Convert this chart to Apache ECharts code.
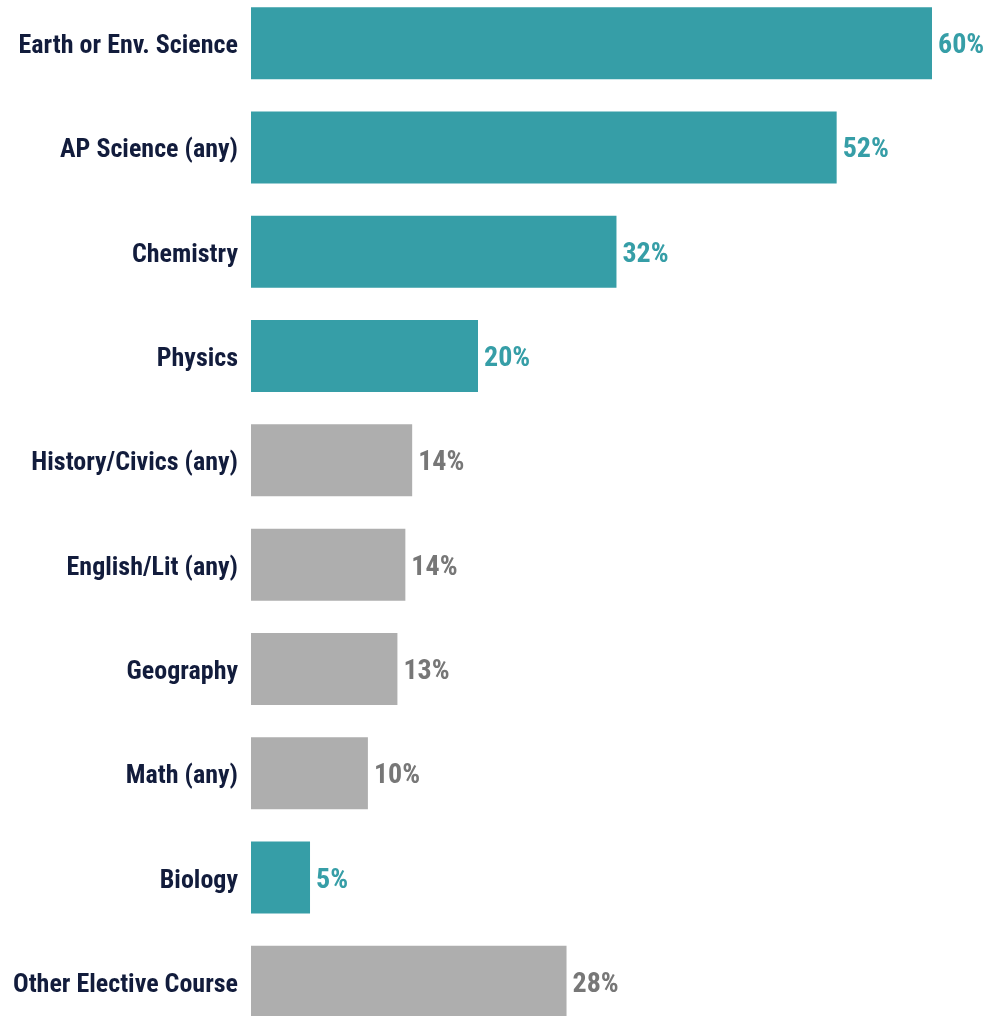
<!DOCTYPE html>
<html>
<head>
<meta charset="utf-8">
<script src="https://cdn.jsdelivr.net/npm/echarts@6/dist/echarts.min.js"></script>
<style>
  html, body { margin: 0; padding: 0; background: #ffffff; }
  #chart { width: 993px; height: 1016px; }
</style>
</head>
<body>
<div id="chart"></div>
<script>
// Course categories, top to bottom
const categories = [
  'Earth or Env. Science',
  'AP Science (any)',
  'Chemistry',
  'Physics',
  'History/Civics (any)',
  'English/Lit (any)',
  'Geography',
  'Math (any)',
  'Biology',
  'Other Elective Course'
];
// Share of respondents (%)
const values = [60.0, 51.6, 32.2, 20.0, 14.2, 13.6, 12.9, 10.3, 5.2, 27.8];
// Science courses are highlighted
const isScience = [true, true, true, true, false, false, false, false, true, false];

const TEAL = '#369EA7';
const GRAY = '#AEAEAE';
const FONT = '"Roboto Condensed", "Liberation Sans", sans-serif';

const chart = echarts.init(document.getElementById('chart'), null, { renderer: 'canvas' });

const data = values.map((v, i) => ({
  value: v,
  itemStyle: { color: isScience[i] ? TEAL : GRAY },
  label: { color: isScience[i] ? TEAL : '#777777' }
}));

chart.setOption({
  animation: false,
  backgroundColor: '#ffffff',
  grid: {
    left: 251, right: 61, top: -9, bottom: -18,
    containLabel: false,
    outerBoundsMode: 'none'
  },
  xAxis: {
    type: 'value',
    min: 0,
    max: 60,
    show: false
  },
  yAxis: {
    type: 'category',
    data: categories,
    inverse: true,
    axisLine: { show: false },
    axisTick: { show: false },
    splitLine: { show: false },
    axisLabel: {
      margin: 13,
      formatter: v => '{c|' + v + '}',
      rich: {
        c: {
          padding: [7, 0, 0, 0],
          color: '#121C3C',
          fontFamily: FONT,
          fontWeight: 'bold',
          fontSize: 26
        }
      }
    }
  },
  series: [{
    type: 'bar',
    data: data,
    barWidth: 72,
    label: {
      show: true,
      position: 'right',
      distance: 6,
      offset: [0, 3],
      fontFamily: FONT,
      fontWeight: 'bold',
      fontSize: 28,
      formatter: p => Math.round(p.value) + '%'
    }
  }]
});
</script>
</body>
</html>
